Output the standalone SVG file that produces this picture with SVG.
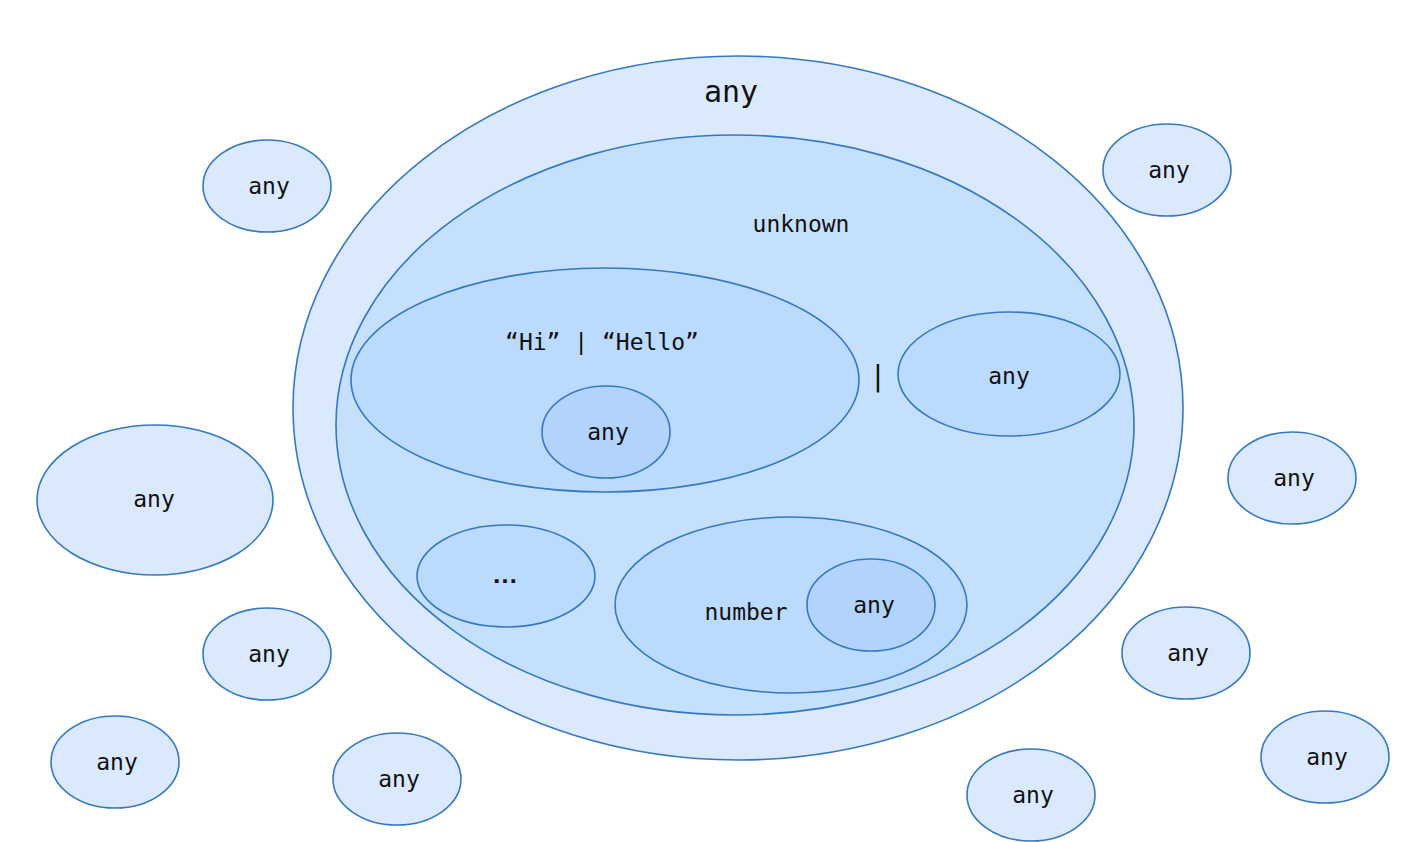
<svg xmlns="http://www.w3.org/2000/svg" width="1421" height="842" viewBox="0 0 1421 842">
<style>
ellipse{stroke:#3478c6;stroke-width:1.6}
.l0{fill:#dae9fe}.l1{fill:#c5e0fd}.l2{fill:#badafe}.l3{fill:#b1d3fc}
text{font-family:"DejaVu Sans Mono","Liberation Mono",monospace;font-size:23px;fill:#111;text-anchor:middle;dominant-baseline:central}
</style>
<rect width="1421" height="842" fill="#ffffff"/>
<g id="any-outer"><ellipse class="l0" cx="738" cy="408" rx="445" ry="352"/><text x="731" y="91" style="font-size:30px">any</text></g>
<g id="unknown"><ellipse class="l1" cx="735" cy="425" rx="399" ry="290"/><text x="801" y="224">unknown</text></g>
<g id="hi-hello"><ellipse class="l2" cx="605" cy="380" rx="254" ry="112"/><text x="602" y="342">“Hi” | “Hello”</text></g>
<g id="any-hi"><ellipse class="l3" cx="606" cy="432" rx="64" ry="46"/><text x="608" y="432">any</text></g>
<g id="pipe"><text x="878" y="376" style="font-size:28px">|</text></g>
<g id="any-right"><ellipse class="l2" cx="1009" cy="374" rx="111" ry="62"/><text x="1009" y="376">any</text></g>
<g id="ellipsis"><ellipse class="l2" cx="506" cy="576" rx="89" ry="51"/><text x="505" y="574" style="font-family:'Liberation Sans',sans-serif;font-size:26px;font-weight:bold">…</text></g>
<g id="number"><ellipse class="l2" cx="791" cy="605" rx="176" ry="88"/><text x="746" y="612">number</text></g>
<g id="any-number"><ellipse class="l3" cx="871" cy="605" rx="64" ry="46"/><text x="874" y="605">any</text></g>
<g id="o1"><ellipse class="l0" cx="267" cy="186" rx="64" ry="46"/><text x="269" y="186">any</text></g>
<g id="o2"><ellipse class="l0" cx="1167" cy="170" rx="64" ry="46"/><text x="1169" y="170">any</text></g>
<g id="o3"><ellipse class="l0" cx="1292" cy="478" rx="64" ry="46"/><text x="1294" y="478">any</text></g>
<g id="o4"><ellipse class="l0" cx="155" cy="500" rx="118" ry="75"/><text x="154" y="499">any</text></g>
<g id="o5"><ellipse class="l0" cx="267" cy="654" rx="64" ry="46"/><text x="269" y="654">any</text></g>
<g id="o6"><ellipse class="l0" cx="115" cy="762" rx="64" ry="46"/><text x="117" y="762">any</text></g>
<g id="o7"><ellipse class="l0" cx="397" cy="779" rx="64" ry="46"/><text x="399" y="779">any</text></g>
<g id="o8"><ellipse class="l0" cx="1186" cy="653" rx="64" ry="46"/><text x="1188" y="653">any</text></g>
<g id="o9"><ellipse class="l0" cx="1325" cy="757" rx="64" ry="46"/><text x="1327" y="757">any</text></g>
<g id="o10"><ellipse class="l0" cx="1031" cy="795" rx="64" ry="46"/><text x="1033" y="795">any</text></g>
<g id="connectors"></g>
</svg>
